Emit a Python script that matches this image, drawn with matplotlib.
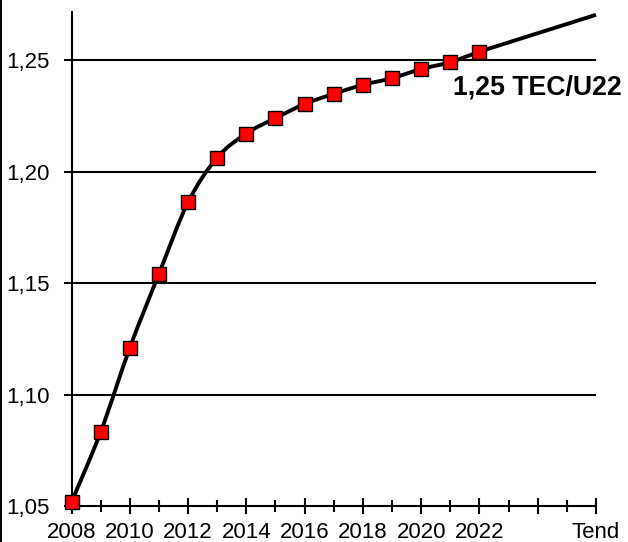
import matplotlib
matplotlib.use("Agg")
import matplotlib.pyplot as plt
from matplotlib.path import Path
from matplotlib.patches import PathPatch
from matplotlib.lines import Line2D
import numpy as np

plt.rcParams['font.family'] = ['Liberation Sans', 'DejaVu Sans']

years = [2008, 2009, 2010, 2011, 2012, 2013, 2014, 2015, 2016, 2017,
         2018, 2019, 2020, 2021, 2022]
values = [1.052, 1.0834, 1.1211, 1.1543, 1.1864, 1.2064, 1.2172, 1.2241,
          1.2304, 1.2350, 1.2390, 1.2420, 1.2461, 1.2492, 1.2539]
trend_x = [2022, 2026]
trend_y = [1.2539, 1.2704]
xtick_pos = [2008, 2010, 2012, 2014, 2016, 2018, 2020, 2022, 2024, 2026]
xtick_labels = ['2008', '2010', '2012', '2014', '2016', '2018', '2020', '2022', '', 'Tend']
ytick_pos = [1.05, 1.10, 1.15, 1.20, 1.25]
ytick_labels = ['1,05', '1,10', '1,15', '1,20', '1,25']
annotation = '1,25 TEC/U22'

fig = plt.figure(figsize=(6.28, 5.42), dpi=100)
ax = fig.add_axes([0.1139, 0.0655, 0.949 - 0.1139, 0.978 - 0.0655])
ax.set_xlim(2008, 2026)
ax.set_ylim(1.05, 1.2717)

# grid lines
for y in ytick_pos[1:]:
    ax.axhline(y, color='black', lw=1.5, zorder=1)

# smooth curve (Catmull-Rom -> cubic Bezier)
x = np.array(years, dtype=float)
y = np.array(values, dtype=float)
verts = [(x[0], y[0])]
codes = [Path.MOVETO]
n = len(x)
for i in range(n - 1):
    p0 = (x[max(i - 1, 0)], y[max(i - 1, 0)])
    p1 = (x[i], y[i])
    p2 = (x[i + 1], y[i + 1])
    p3 = (x[min(i + 2, n - 1)], y[min(i + 2, n - 1)])
    c1 = (p1[0] + (p2[0] - p0[0]) / 6, p1[1] + (p2[1] - p0[1]) / 6)
    c2 = (p2[0] - (p3[0] - p1[0]) / 6, p2[1] - (p3[1] - p1[1]) / 6)
    verts += [c1, c2, p2]
    codes += [Path.CURVE4] * 3
ax.add_patch(PathPatch(Path(verts, codes), facecolor='none', edgecolor='black',
                       lw=2.8, zorder=3, clip_on=False, capstyle='round', joinstyle='round'))

ax.plot(trend_x, trend_y, color='black', lw=2.8, zorder=3, clip_on=False,
        solid_capstyle='butt')

ax.plot(years, values, linestyle='none', marker='s', markersize=10.5,
        markerfacecolor='#ff0000', markeredgecolor='black', markeredgewidth=1.0,
        zorder=5, clip_on=False)

ax.text(2022 - 0.9, 1.2377, annotation, fontsize=19.2, fontweight='bold',
        ha='left', va='center', zorder=6)

for s in ['top', 'right']:
    ax.spines[s].set_visible(False)
for s in ['left', 'bottom']:
    ax.spines[s].set_linewidth(1.5)
    ax.spines[s].set_zorder(4)

ax.set_xticks(xtick_pos)
ax.set_xticklabels(xtick_labels, fontsize=16)
ax.set_xticks(list(range(2009, 2026, 2)), minor=True)
ax.set_yticks(ytick_pos)
ax.set_yticklabels(ytick_labels, fontsize=16)
ax.tick_params(axis='x', which='major', direction='inout', length=12, width=1.5, pad=5)
ax.tick_params(axis='x', which='minor', direction='inout', length=9, width=1.5)
ax.tick_params(axis='y', which='major', direction='out', length=6, width=1.5, pad=10)

fig.add_artist(Line2D([0.0016, 0.0016], [0, 1], transform=fig.transFigure,
                      color='black', lw=1.5))

fig.savefig('out.png', dpi=100)
